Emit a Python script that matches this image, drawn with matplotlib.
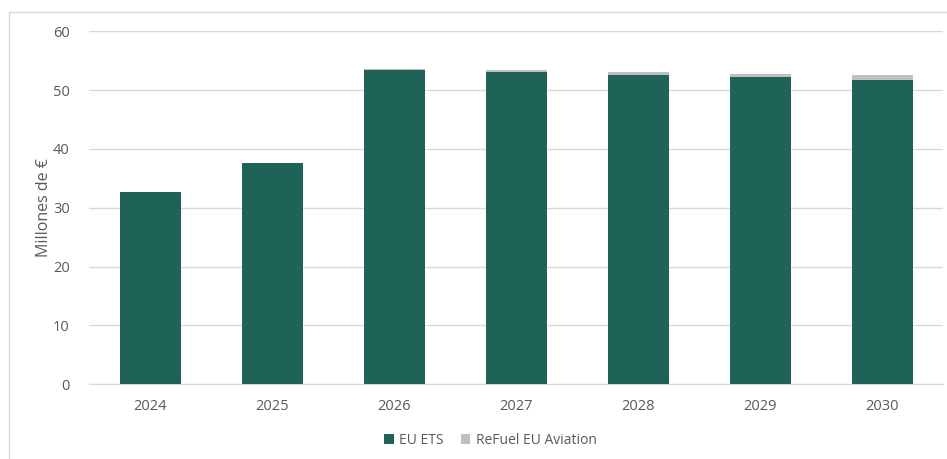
import matplotlib.pyplot as plt
from matplotlib.patches import Rectangle
import numpy as np

plt.rcParams['font.family'] = ['Open Sans', 'DejaVu Sans']

years = ['2024', '2025', '2026', '2027', '2028', '2029', '2030']
eu_ets = [32.6, 37.6, 53.4, 53.05, 52.6, 52.2, 51.75]
refuel = [0.0, 0.0, 0.15, 0.35, 0.5, 0.6, 0.8]

green = '#1F6358'
grey = '#BFBFBF'
text_col = '#595959'

fig = plt.figure(figsize=(9.47, 4.59), dpi=100)
ax = fig.add_axes([0.094, 0.163, 0.902, 0.769])

x = np.arange(len(years))
ax.bar(x, eu_ets, width=0.5, color=green, label='EU ETS', zorder=3)
ax.bar(x, refuel, width=0.5, bottom=eu_ets, color=grey,
       label='ReFuel EU Aviation', zorder=3)

ax.set_xlim(-0.5, len(years) - 0.5)
ax.set_ylim(0, 60)
ax.set_yticks(range(0, 61, 10))
ax.set_xticks(x)
ax.set_xticklabels(years)
ax.grid(axis='y', color='#D9D9D9', linewidth=1, zorder=0)
for s in ['top', 'right', 'left']:
    ax.spines[s].set_visible(False)
ax.spines['bottom'].set_color('#D9D9D9')
ax.tick_params(axis='both', length=0, colors=text_col, labelsize=10.5)
ax.tick_params(axis='x', pad=11)
ax.tick_params(axis='y', pad=14)
ax.set_ylabel('Millones de €', color=text_col, fontsize=11.5)
ax.yaxis.set_label_coords(-0.043, 0.5)

ax.legend(loc='center', bbox_to_anchor=(0.47, -0.16), ncol=2,
          frameon=False, fontsize=10, handlelength=0.7, handleheight=0.7,
          columnspacing=1.2, handletextpad=0.4, labelcolor=text_col)

# outer chart frame, running off the right and bottom edges
fig.patches.append(Rectangle((9 / 947, -0.05), 1.0, 1 - 12 / 459 + 0.05,
                             transform=fig.transFigure, fill=False,
                             edgecolor='#D9D9D9', linewidth=1))

fig.savefig('out.png', dpi=100)
